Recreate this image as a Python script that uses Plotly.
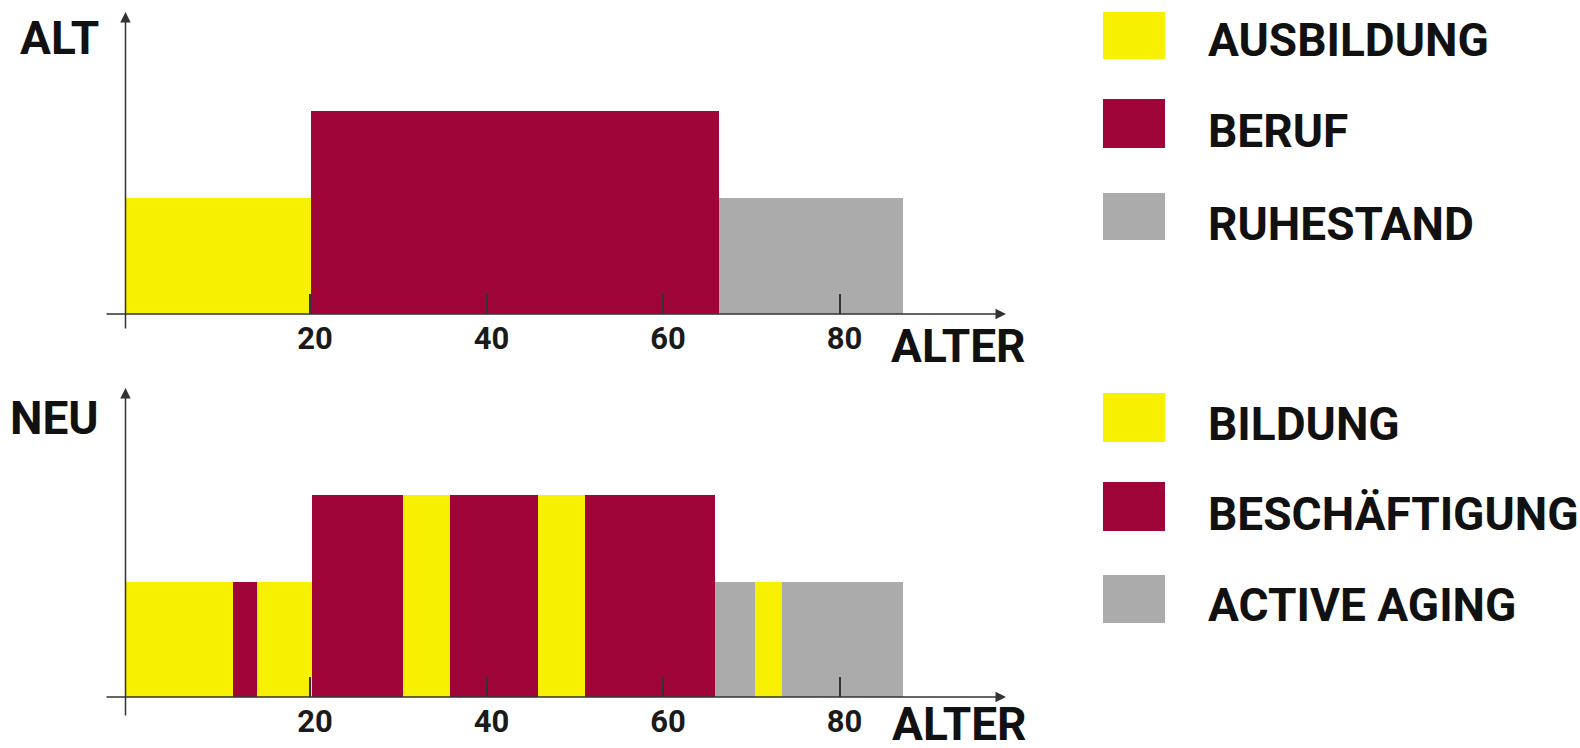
import plotly.graph_objects as go

# ---------------- data ----------------
alt_edges = [-1, 20.1, 66.4, 87.2]
alt_cats = ["AUSBILDUNG", "BERUF", "RUHESTAND"]
alt_heights = [1.0, 1.75, 1.0]

neu_edges = [-1, 11.3, 14.0, 20.2, 30.5, 35.9, 45.8, 51.2, 65.9, 70.4, 73.5, 87.2]
neu_cats = ["BILDUNG", "BESCHÄFTIGUNG", "BILDUNG", "BESCHÄFTIGUNG", "BILDUNG",
            "BESCHÄFTIGUNG", "BILDUNG", "BESCHÄFTIGUNG", "ACTIVE AGING", "BILDUNG",
            "ACTIVE AGING"]
neu_legend = ["BILDUNG", "BESCHÄFTIGUNG", "ACTIVE AGING"]
neu_heights = [1.0, 1.0, 1.0, 1.75, 1.75, 1.75, 1.75, 1.75, 1.0, 1.0, 1.0]

tick_vals = [20, 40, 60, 80]
tick_text = ["20", "40", "60", "80"]

YELLOW = "#F7F000"
MAROON = "#A0053A"
GRAY = "#ABABAB"
alt_colors = {"AUSBILDUNG": YELLOW, "BERUF": MAROON, "RUHESTAND": GRAY}
neu_colors = {"BILDUNG": YELLOW, "BESCHÄFTIGUNG": MAROON, "ACTIVE AGING": GRAY}

# ---------------- layout geometry (pixels) ----------------
W, H = 1580, 748
FONT = "Roboto"
AX = "#333333"


def py(p):
    return 1 - p / H


def px(p):
    return p / W


# x mapping: pixel = X0 + XS * age
X0, XS = 133.5, 8.825
x_range = [(0 - X0) / XS, (W - X0) / XS]


def age_of(p):
    return (p - X0) / XS


def yrange(top, bottom, base, scale):
    return [(base - bottom) / scale, (base - top) / scale]


fig = go.Figure()


def add_bars(edges, cats, heights, colors, xa, ya):
    for i, c in enumerate(cats):
        fig.add_trace(go.Bar(
            x=[(edges[i] + edges[i + 1]) / 2], y=[heights[i]],
            width=[edges[i + 1] - edges[i]], base=0,
            marker=dict(color=colors[c], line=dict(width=0)),
            xaxis=xa, yaxis=ya, showlegend=False, name=c,
            hoverinfo="name",
        ))


add_bars(alt_edges, alt_cats, alt_heights, alt_colors, "x", "y")
add_bars(neu_edges, neu_cats, neu_heights, neu_colors, "x2", "y2")

xcommon = dict(range=x_range, domain=[0, 1], showgrid=False, zeroline=False,
               showline=False, ticks="inside", ticklen=20, tickwidth=1.5,
               tickcolor=AX, tickvals=tick_vals, ticktext=tick_text,
               tickfont=dict(family=FONT, size=31, color="#1a1a1a", weight="bold"),
               ticklabelstandoff=3, ticklabelshift=5,
               anchor="free", fixedrange=True)

fig.update_layout(
    width=W, height=H, margin=dict(l=0, r=0, t=0, b=0),
    plot_bgcolor="white", paper_bgcolor="white",
    barmode="overlay", bargap=0,
    showlegend=False,
    xaxis=dict(**xcommon, position=py(314)),
    xaxis2=dict(**xcommon, position=py(697)),
    yaxis=dict(domain=[py(345), py(0)], range=yrange(0, 345, 314, 116),
               visible=False, anchor="x", fixedrange=True),
    yaxis2=dict(domain=[py(748), py(374)], range=yrange(374, 748, 697, 115.5),
                visible=False, anchor="x2", fixedrange=True),
)

ann = []
# axis arrows
for xr, yr, base, scale, ytop_px, ybot_px in [("x", "y", 314, 116, 12, 330),
                                               ("x2", "y2", 697, 115.5, 388, 717)]:
    ytop = (base - ytop_px) / scale
    ybot = (base - ybot_px) / scale
    yx = age_of(125.5)
    ann.append(dict(x=yx, y=ytop, ax=yx, ay=ybot, xref=xr, yref=yr, axref=xr, ayref=yr,
                    showarrow=True, arrowhead=2, arrowsize=1.4, arrowwidth=1.5,
                    arrowcolor=AX, text="", standoff=0, startstandoff=0))
    ann.append(dict(x=age_of(1006), y=0, ax=age_of(105), ay=0, xref=xr, yref=yr,
                    axref=xr, ayref=yr,
                    showarrow=True, arrowhead=2, arrowsize=1.4, arrowwidth=1.5,
                    arrowcolor=AX, text="", standoff=0, startstandoff=0))

big = dict(family=FONT, size=46, color="#111111", weight="bold")
# panel labels
ann.append(dict(x=px(101), y=py(38), xref="paper", yref="paper", text="ALT",
                showarrow=False, xanchor="right", yanchor="middle", font=big))
ann.append(dict(x=px(101), y=py(418), xref="paper", yref="paper", text="NEU",
                showarrow=False, xanchor="right", yanchor="middle", font=big))
ann.append(dict(x=px(889), y=py(346), xref="paper", yref="paper", text="ALTER",
                showarrow=False, xanchor="left", yanchor="middle", font=big))
ann.append(dict(x=px(890), y=py(724), xref="paper", yref="paper", text="ALTER",
                showarrow=False, xanchor="left", yanchor="middle", font=big))

# legends
shapes = []
leg_sw = [(12, 59), (99, 148), (193, 240)]
leg_txt = [40, 131, 224]
for (t, b), ty, c in zip(leg_sw, leg_txt, alt_cats):
    shapes.append(dict(type="rect", xref="paper", yref="paper", x0=px(1103), x1=px(1165),
                       y0=py(b), y1=py(t), fillcolor=alt_colors[c], line=dict(width=0)))
    ann.append(dict(x=px(1206), y=py(ty), xref="paper", yref="paper", text=c,
                    showarrow=False, xanchor="left", yanchor="middle", font=big))
leg_sw2 = [(393, 442), (482, 531), (575, 623)]
leg_txt2 = [424, 514, 605]
for (t, b), ty, c in zip(leg_sw2, leg_txt2, neu_legend):
    shapes.append(dict(type="rect", xref="paper", yref="paper", x0=px(1103), x1=px(1165),
                       y0=py(b), y1=py(t), fillcolor=neu_colors[c], line=dict(width=0)))
    ann.append(dict(x=px(1206), y=py(ty), xref="paper", yref="paper", text=c,
                    showarrow=False, xanchor="left", yanchor="middle", font=big))

fig.update_layout(annotations=ann, shapes=shapes)
fig.write_html(
    "out.html",
    config={"displayModeBar": False},
    post_script="document.body.style.margin='0';document.body.style.overflow='hidden';",
)
